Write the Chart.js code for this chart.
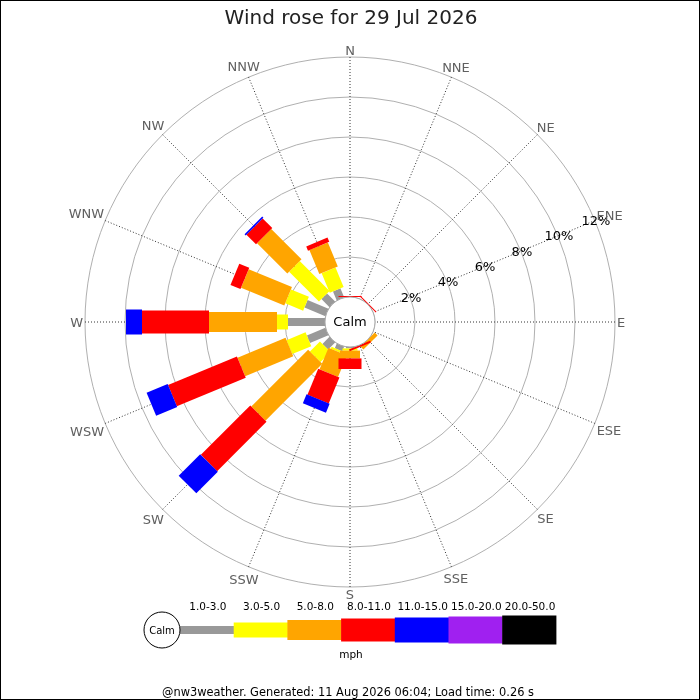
<!DOCTYPE html>
<html><head><meta charset="utf-8">
<script src="https://cdn.jsdelivr.net/npm/chart.js@4.4.1/dist/chart.umd.min.js"></script>
<style>html,body{margin:0;padding:0;background:#fff;}#wrap{width:700px;height:700px;position:relative;}</style>
</head><body><div id="wrap"><canvas id="c"></canvas></div>
<script>
// ---- data ----
const titleText = 'Wind rose for 29 Jul 2026';
const footerText = '@nw3weather. Generated: 11 Aug 2026 06:04; Load time: 0.26 s';
const directions = ['N','NNE','NE','ENE','E','ESE','SE','SSE','S','SSW','SW','WSW','W','WNW','NW','NNW'];
const speedBins = ['1.0-3.0','3.0-5.0','5.0-8.0','8.0-11.0','11.0-15.0','15.0-20.0','20.0-50.0'];
const speedUnit = 'mph';
const calmLabel = 'Calm';
// frequency (%) per direction, one array per speed bin
const bin1to3   = [0,0,0,0,0,0,0,0,0.07,0.25,0.50,1.00,1.85,1.13,0.57,0.49];
const bin3to5   = [0,0,0,0,0,0,0,0,0.11,0.10,0.71,1.03,0.55,0.97,2.11,1.06];
const bin5to8   = [0,0,0,0,0,0,0.20,0,0.39,1.17,4.02,2.60,3.40,2.34,2.14,1.30];
const bin8to11  = [0.05,0,0.05,0,0,0,0,0.10,0.53,1.40,3.49,3.73,3.35,0.54,0.68,0.23];
const bin11to15 = [0,0,0,0,0,0,0,0,0,0.48,1.52,1.14,0.80,0,0.08,0];
const bin15to20 = [0,0,0,0,0,0,0,0,0,0,0,0,0,0,0,0];
const bin20to50 = [0,0,0,0,0,0,0,0,0,0,0,0,0,0,0,0];
const gridValues = [0,2,4,6,8,10,12];
const tickLabelValues = [2,4,6,8,10,12];
const tickLabelDirection = 3; // ENE

// ---- styles ----
const binColors = ['#999999','#ffff00','#ffa500','#ff0000','#0000ff','#a020f0','#000000'];
const binWidths = [8,15,20,23,25,27,29];
const FONT = '"DejaVu Sans", sans-serif';

const binSeries = [bin1to3,bin3to5,bin5to8,bin8to11,bin11to15,bin15to20,bin20to50];
// cumulative (stacked) values
const cumulative = [];
binSeries.forEach((arr, k) => {
  cumulative.push(arr.map((v, i) => (k === 0 ? 0 : cumulative[k-1][i]) + v));
});

const datasets = binSeries.map((arr, k) => ({
  label: speedBins[k],
  data: cumulative[k],
  baseData: k === 0 ? directions.map(() => 0) : cumulative[k-1],
  backgroundColor: binColors[k],
  borderColor: binColors[k],
  barWidth: binWidths[k],
  showLine: false, fill: false, pointRadius: 0, pointHoverRadius: 0, borderWidth: 0
}));

const rosePlugin = {
  id: 'rose',
  beforeDraw(chart) {
    const ctx = chart.ctx;
    ctx.save(); ctx.fillStyle = '#fff'; ctx.fillRect(0, 0, chart.width, chart.height); ctx.restore();
  },
  afterDatasetsDraw(chart) {
    const s = chart.scales.r, ctx = chart.ctx;
    ctx.save();
    chart.data.datasets.forEach(ds => {
      ds.data.forEach((cum, i) => {
        const prev = ds.baseData[i];
        if (cum - prev <= 0) return;
        const r0 = s.getDistanceFromCenterForValue(prev);
        const r1 = s.getDistanceFromCenterForValue(cum);
        const a = s.getIndexAngle(i) - Math.PI / 2;
        ctx.save();
        ctx.translate(s.xCenter, s.yCenter);
        ctx.rotate(a);
        ctx.fillStyle = ds.backgroundColor;
        ctx.fillRect(r0, -ds.barWidth / 2, Math.max(r1 - r0, 1), ds.barWidth);
        ctx.restore();
      });
    });
    // calm circle
    const rc = s.getDistanceFromCenterForValue(0);
    ctx.beginPath();
    ctx.arc(s.xCenter, s.yCenter, rc, 0, Math.PI * 2);
    ctx.fillStyle = '#fff'; ctx.fill();
    ctx.lineWidth = 1; ctx.strokeStyle = '#aaaaaa'; ctx.stroke();
    ctx.fillStyle = '#000'; ctx.font = '13px ' + FONT;
    ctx.textAlign = 'center'; ctx.textBaseline = 'middle';
    ctx.fillText(calmLabel, s.xCenter, s.yCenter + 1);
    // tick labels along ENE
    tickLabelValues.forEach(v => {
      const p = s.getPointPositionForValue(tickLabelDirection, v);
      ctx.fillText(v + '%', p.x + 1, p.y + 1);
    });
    // direction labels
    ctx.fillStyle = '#606060';
    const R = s.drawingArea;
    directions.forEach((d, i) => {
      const ang = s.getIndexAngle(i);
      const w = ctx.measureText(d).width;
      const h = 10;
      const dist = R + 2 + Math.abs(Math.sin(ang)) * w / 2 + Math.abs(Math.cos(ang)) * h / 2;
      const p = s.getPointPosition(i, dist);
      ctx.fillText(d, p.x, p.y + 2);
    });
    ctx.restore();
  },
  afterDraw(chart) {
    const ctx = chart.ctx;
    ctx.save();
    // title
    ctx.fillStyle = '#222'; ctx.font = '20px ' + FONT;
    ctx.textAlign = 'center'; ctx.textBaseline = 'alphabetic';
    ctx.fillText(titleText, 351, 24);
    // legend
    const x0 = 180, segW = 53.7, ly = 630;
    ctx.font = '10.5px ' + FONT; ctx.textBaseline = 'middle';
    speedBins.forEach((lab, k) => {
      const h = binWidths[k];
      ctx.fillStyle = binColors[k];
      ctx.fillRect(x0 + k * segW, ly - h / 2, segW + 0.5, h);
      ctx.fillStyle = '#000';
      ctx.fillText(lab, x0 + (k + 0.5) * segW + 1, 607);
    });
    ctx.beginPath(); ctx.arc(162, ly, 18, 0, Math.PI * 2);
    ctx.fillStyle = '#fff'; ctx.fill(); ctx.strokeStyle = '#000'; ctx.lineWidth = 1; ctx.stroke();
    ctx.fillStyle = '#000'; ctx.font = '10px ' + FONT;
    ctx.fillText(calmLabel, 162, ly + 1);
    ctx.font = '10.5px ' + FONT;
    ctx.fillText(speedUnit, 351, 655);
    // footer
    ctx.font = '11.4px ' + FONT;
    ctx.fillText(footerText, 348, 693);
    // frame
    ctx.strokeStyle = '#000'; ctx.lineWidth = 1;
    ctx.strokeRect(0.5, 0.5, chart.width - 1, chart.height - 1);
    ctx.restore();
  }
};

new Chart(document.getElementById('c'), {
  type: 'radar',
  data: { labels: directions, datasets },
  options: {
    responsive: true, maintainAspectRatio: false, animation: false,
    devicePixelRatio: 1,
    layout: { padding: { left: 85, right: 85, top: 57, bottom: 113 } },
    plugins: { legend: { display: false }, tooltip: { enabled: false }, title: { display: false } },
    elements: { point: { radius: 0 }, line: { borderWidth: 0 } },
    scales: {
      r: {
        min: -1.25, max: 12, startAngle: 0,
        afterBuildTicks: (sc) => { sc.ticks = gridValues.map(v => ({ value: v })); },
        ticks: { display: false },
        grid: { circular: true, color: '#b0b0b0', lineWidth: 1 },
        angleLines: { display: true, color: '#333', lineWidth: 1, borderDash: [1, 2] },
        pointLabels: { display: false }
      }
    }
  },
  plugins: [rosePlugin]
});
</script></body></html>
